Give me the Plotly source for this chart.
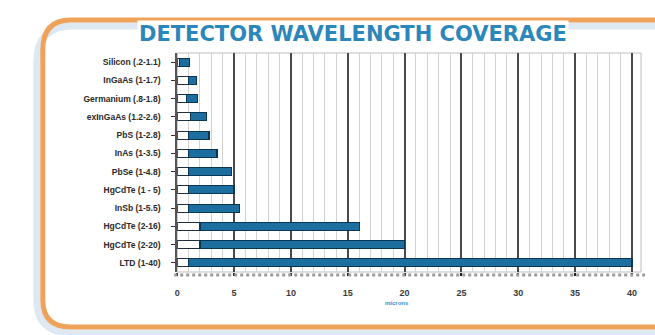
import plotly.graph_objects as go

W, H = 655, 335

detectors = ["Silicon (.2-1.1)", "InGaAs (1-1.7)", "Germanium (.8-1.8)", "exInGaAs (1.2-2.6)",
             "PbS (1-2.8)", "InAs (1-3.5)", "PbSe (1-4.8)", "HgCdTe (1 - 5)", "InSb (1-5.5)",
             "HgCdTe (2-16)", "HgCdTe (2-20)", "LTD (1-40)"]
start_um = [0.2, 1.0, 0.8, 1.2, 1.0, 1.0, 1.0, 1.0, 1.0, 2.0, 2.0, 1.0]
end_um = [1.1, 1.7, 1.8, 2.6, 2.8, 3.5, 4.8, 5.0, 5.5, 16.0, 20.0, 40.0]
span_um = [e - s for s, e in zip(start_um, end_um)]
x_ticks = [0, 5, 10, 15, 20, 25, 30, 35, 40]

def px(x):
    return x / W

def py(y):
    return 1 - y / H

fig = go.Figure()
fig.add_trace(go.Bar(y=detectors, x=start_um, orientation="h",
                     marker=dict(color="white", line=dict(color="#1b2f40", width=1.2)),
                     hoverinfo="skip"))
fig.add_trace(go.Bar(y=detectors, x=span_um, orientation="h",
                     marker=dict(color="#1c6e9e", line=dict(color="#0c3553", width=1.2)),
                     hoverinfo="skip"))

# plot area in pixels
L, R, T, B = 175, 641, 53, 272

fig.update_layout(
    width=W, height=H, barmode="stack", bargap=0.56, showlegend=False,
    margin=dict(l=0, r=0, t=0, b=0),
    paper_bgcolor="white", plot_bgcolor="white",
    xaxis=dict(domain=[px(L), px(R)], range=[0, 40.8], tickvals=x_ticks,
               showgrid=True, gridcolor="#4a4a4a", gridwidth=2,
               minor=dict(dtick=1, showgrid=True, gridcolor="#d2d2d2", gridwidth=1),
               zeroline=False, showline=False,
               ticks="outside", ticklen=3, tickcolor="#222", tickwidth=2,
               tickfont=dict(family="Liberation Sans", size=9, color="#3a3a3a", weight="bold"),
               ticklabelstandoff=9),
    yaxis=dict(domain=[py(B), py(T)], autorange="reversed", showgrid=False,
               showline=True, linecolor="#555", linewidth=2,
               ticks="outside", ticklen=4, tickcolor="#333",
               tickfont=dict(family="Liberation Sans", size=8.5, color="#2a2a2a", weight="bold"),
               ticklabelstandoff=9),
)

shapes = []
# light blue soft shadow of the frame
shadow = (f"M {px(657)},{py(26)} L {px(70)},{py(26)} Q {px(34)},{py(26)} {px(34)},{py(62)} "
          f"L {px(34)},{py(300)} Q {px(34)},{py(333)} {px(70)},{py(333)} L {px(657)},{py(333)}")
shapes.append(dict(type="path", path=shadow, xref="paper", yref="paper",
                   line=dict(color="#dde8f3", width=7)))
# orange rounded frame
frame = (f"M {px(657)},{py(20)} L {px(68)},{py(20)} Q {px(40)},{py(20)} {px(40)},{py(50)} "
         f"L {px(40)},{py(300)} Q {px(40)},{py(327)} {px(68)},{py(327)} L {px(657)},{py(327)}")
shapes.append(dict(type="path", path=frame, xref="paper", yref="paper",
                   line=dict(color="#efa25a", width=5)))
# plot top / right light border
shapes.append(dict(type="rect", xref="paper", yref="paper", x0=px(L), x1=px(R), y0=py(B), y1=py(T),
                   line=dict(color="#bdbdbd", width=1), layer="below"))
# hatched 3D floor
shapes.append(dict(type="line", xref="paper", yref="paper", x0=px(L - 3), x1=px(R + 4),
                   y0=py(275), y1=py(275), line=dict(color="#9a9a9a", width=3, dash="3px,3px")))
fig.update_layout(shapes=shapes)

fig.add_annotation(x=px(352), y=py(20), xref="paper", yref="paper", showarrow=False,
                   text="<b>DETECTOR WAVELENGTH COVERAGE</b>", bgcolor="white", borderpad=1,
                   font=dict(family="DejaVu Sans", size=21, color="#2b86ba"))
fig.add_annotation(x=px(396), y=py(308), xref="paper", yref="paper", showarrow=False,
                   text="<b>microns</b>", font=dict(family="Liberation Sans", size=6, color="#3a8ccc"))

fig.write_html("out.html")
